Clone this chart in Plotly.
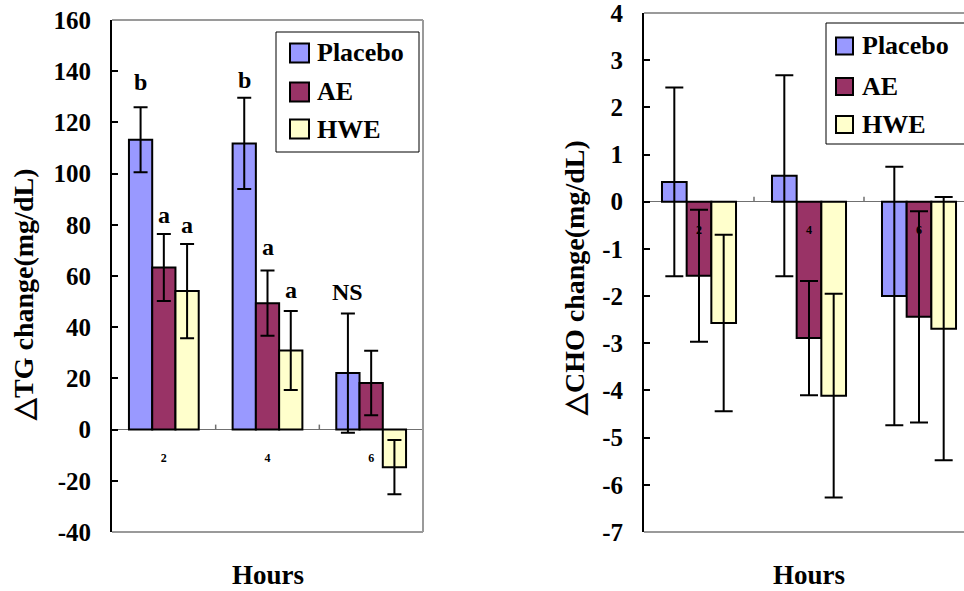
import plotly.graph_objects as go

# ---------------- data ----------------
hours = ["2", "4", "6"]
series = ["Placebo", "AE", "HWE"]
colors = ["#9999FF", "#993366", "#FFFFCC"]

tg_placebo = [113.2, 111.8, 22.1]
tg_placebo_err = [12.7, 17.8, 23.3]
tg_ae = [63.3, 49.4, 18.2]
tg_ae_err = [13.1, 12.7, 12.6]
tg_hwe = [54.1, 30.9, -14.7]
tg_hwe_err = [18.4, 15.4, 10.6]

cho_placebo = [0.42, 0.55, -2.0]
cho_placebo_err = [2.0, 2.13, 2.74]
cho_ae = [-1.57, -2.89, -2.44]
cho_ae_err = [1.40, 1.21, 2.24]
cho_hwe = [-2.57, -4.11, -2.69]
cho_hwe_err = [1.87, 2.16, 2.79]

tg_ticks = [160, 140, 120, 100, 80, 60, 40, 20, 0, -20, -40]
tg_tick_labels = ["160", "140", "120", "100", "80", "60", "40", "20", "0", "-20", "-40"]
cho_ticks = [4, 3, 2, 1, 0, -1, -2, -3, -4, -5, -6, -7]
cho_tick_labels = ["4", "3", "2", "1", "0", "-1", "-2", "-3", "-4", "-5", "-6", "-7"]

# significance letters: (text, hour index, series index)
tg_letters = [("b", 0, 0), ("a", 0, 1), ("a", 0, 2),
              ("b", 1, 0), ("a", 1, 1), ("a", 1, 2),
              ("NS", 2, 0)]

tg_title = "△TG change(mg/dL)"
cho_title = "△CHO change(mg/dL)"
x_title = "Hours"

# ---------------- layout helpers ----------------
W, H = 964, 591
OFF = 0  # body margin is removed by the post script below
FONT = "Liberation Serif, Times New Roman, serif"
BARGAP = 0.327


def px(x):
    """page pixel x -> paper fraction"""
    return (x - OFF) / W


def py(y):
    """page pixel y -> paper fraction"""
    return 1 - (y - OFF) / H


tg_vals = [tg_placebo, tg_ae, tg_hwe]
tg_errs = [tg_placebo_err, tg_ae_err, tg_hwe_err]
cho_vals = [cho_placebo, cho_ae, cho_hwe]
cho_errs = [cho_placebo_err, cho_ae_err, cho_hwe_err]

fig = go.Figure()

for i, name in enumerate(series):
    fig.add_trace(go.Bar(
        x=hours, y=tg_vals[i], name=name, showlegend=False,
        marker=dict(color=colors[i], line=dict(color="black", width=2)),
        error_y=dict(type="data", array=tg_errs[i], color="black",
                     thickness=2, width=7),
        xaxis="x", yaxis="y"))
for i, name in enumerate(series):
    fig.add_trace(go.Bar(
        x=hours, y=cho_vals[i], name=name, showlegend=False,
        marker=dict(color=colors[i], line=dict(color="black", width=2)),
        error_y=dict(type="data", array=cho_errs[i], color="black",
                     thickness=2, width=9),
        xaxis="x2", yaxis="y2"))

# panel geometry (page pixels)
R_left, R_full_right = 644, 974
L_dom_x = [px(112), px(423)]
R_dom_x = [px(R_left), 1.0]
L_dom_y = [py(532), py(20)]
R_dom_y = [py(532), py(13)]
tg_range = [min(tg_ticks), max(tg_ticks)]
cho_range = [min(cho_ticks), max(cho_ticks)]
# right panel is cut by the image edge
R_visible_right = OFF + W
R_xmax = 2.5 - 3 * (R_full_right - R_visible_right) / (R_full_right - R_left)


def zero_pos(dom, rng):
    return dom[0] + (0 - rng[0]) / (rng[1] - rng[0]) * (dom[1] - dom[0])


tickfont = dict(family=FONT, size=25, color="black", weight="bold")
small_font = dict(family=FONT, size=12, color="black", weight="bold")

common_y = dict(showline=True, linecolor="black", linewidth=2,
                ticks="inside", ticklen=6, tickwidth=2, tickcolor="black",
                tickfont=tickfont, showgrid=False, zeroline=True,
                zerolinecolor="#707070", zerolinewidth=1.5,
                ticklabelstandoff=14, automargin=False,
                ticklabeloverflow="allow")
common_x = dict(type="category", showline=False, ticks="", showgrid=False,
                zeroline=False, tickfont=small_font, anchor="free",
                ticklabelstandoff=19, automargin=False,
                ticklabeloverflow="allow")

fig.update_layout(
    width=W, height=H,
    margin=dict(l=0, r=0, t=0, b=0, autoexpand=False),
    paper_bgcolor="white", plot_bgcolor="white",
    barmode="group", bargap=BARGAP, bargroupgap=0,
    showlegend=False, hovermode=False,
    xaxis=dict(domain=L_dom_x, range=[-0.5, 2.5],
               position=zero_pos(L_dom_y, tg_range), **common_x),
    yaxis=dict(domain=L_dom_y, range=tg_range, tickvals=tg_ticks,
               ticktext=tg_tick_labels, anchor="x", **common_y),
    xaxis2=dict(domain=R_dom_x, range=[-0.5, R_xmax],
                position=zero_pos(R_dom_y, cho_range), **common_x),
    yaxis2=dict(domain=R_dom_y, range=cho_range, tickvals=cho_ticks,
                ticktext=cho_tick_labels, anchor="x2", **common_y),
)

shapes = []
frame = dict(color="#9a9a9a", width=2)
shapes += [
    dict(type="line", xref="x domain", yref="y domain", x0=0, x1=1, y0=1, y1=1, line=frame),
    dict(type="line", xref="x domain", yref="y domain", x0=0, x1=1, y0=0, y1=0, line=frame),
    dict(type="line", xref="x domain", yref="y domain", x0=1, x1=1, y0=0, y1=1, line=frame),
    dict(type="line", xref="x2 domain", yref="y2 domain", x0=0, x1=1, y0=1, y1=1, line=frame),
    dict(type="line", xref="x2 domain", yref="y2 domain", x0=0, x1=1, y0=0, y1=0, line=frame),
]
# category boundary tick marks on the zero line
for xr, yr in (("x", "y"), ("x2", "y2")):
    for b in (0.5, 1.5):
        shapes.append(dict(type="line", xref=xr, yref=yr, x0=b, x1=b,
                           ysizemode="pixel", yanchor=0, y0=0, y1=5,
                           line=dict(color="#707070", width=1.5)))

# hand-drawn legends (box, swatches)
legend_specs = [
    dict(box=(276, 419, 32, 152), sw=(290, 309), rows=[53, 92, 129], text_x=315),
    dict(box=(826, 1000, 23, 144), sw=(836, 853), rows=[46, 86.5, 124.5], text_x=860),
]
annotations = []
for spec in legend_specs:
    x0, x1, y0, y1 = spec["box"]
    shapes.append(dict(type="rect", xref="paper", yref="paper",
                       x0=px(x0), x1=px(x1), y0=py(y1), y1=py(y0),
                       line=dict(color="black", width=1), fillcolor="white",
                       layer="above"))
    s0, s1 = spec["sw"]
    half = (s1 - s0) / 2
    for i, yc in enumerate(spec["rows"]):
        shapes.append(dict(type="rect", xref="paper", yref="paper",
                           x0=px(s0), x1=px(s1), y0=py(yc + half), y1=py(yc - half),
                           line=dict(color="black", width=2), fillcolor=colors[i],
                           layer="above"))
        annotations.append(dict(text=series[i], xref="paper", yref="paper",
                                x=px(spec["text_x"]), y=py(yc), xanchor="left",
                                yanchor="middle", showarrow=False,
                                font=dict(family=FONT, size=26, color="black",
                                          weight="bold")))

# significance letters above the error bars
offset = (1 - BARGAP) / 3
letter_shift = {(0, 0): 10, (0, 1): 4, (0, 2): 4, (1, 0): 3, (1, 1): 9,
                (1, 2): 6, (2, 0): 6}
for text, h, s in tg_letters:
    top = tg_vals[s][h] + tg_errs[s][h]
    annotations.append(dict(text=text, xref="x", yref="y", x=h + (s - 1) * offset,
                            y=top, xanchor="center", yanchor="bottom",
                            yshift=letter_shift[(h, s)], showarrow=False,
                            font=dict(family=FONT, size=24, color="black",
                                      weight="bold")))

# axis titles
title_font = dict(family=FONT, size=28, color="black", weight="bold")
annotations += [
    dict(text=tg_title, xref="paper", yref="paper", x=px(23), y=py(295),
         textangle=-90, showarrow=False, xanchor="center", yanchor="middle",
         font=title_font),
    dict(text=cho_title, xref="paper", yref="paper", x=px(574), y=py(278),
         textangle=-90, showarrow=False, xanchor="center", yanchor="middle",
         font=title_font),
    dict(text=x_title, xref="x", yref="paper", x=1, y=py(575),
         showarrow=False, xanchor="center", yanchor="middle",
         font=dict(family=FONT, size=27, color="black", weight="bold")),
    dict(text=x_title, xref="paper", yref="paper", x=px(809), y=py(575),
         showarrow=False, xanchor="center", yanchor="middle",
         font=dict(family=FONT, size=27, color="black", weight="bold")),
]

fig.update_layout(shapes=shapes, annotations=annotations)
fig.write_html("out.html",
               config={"displayModeBar": False, "staticPlot": True},
               post_script="document.body.style.margin='0';"
                           "document.body.style.overflow='hidden';")
